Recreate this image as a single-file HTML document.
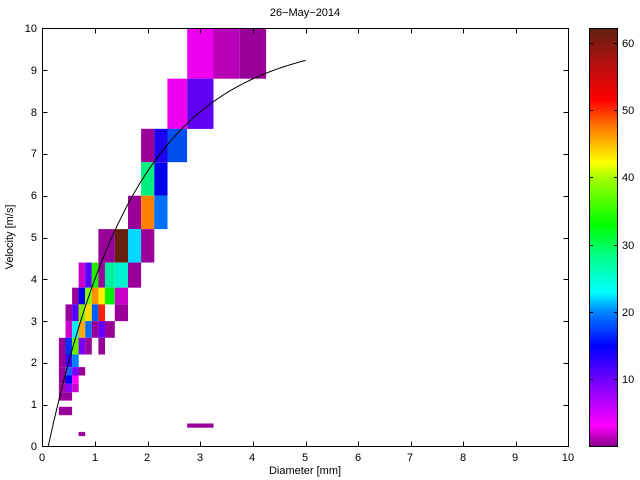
<!DOCTYPE html>
<html><head><meta charset="utf-8"><style>
body{margin:0;background:#fff;}
svg{display:block;font-family:"Liberation Sans",sans-serif;}
</style></head><body>
<svg id="s" width="640" height="480" xmlns="http://www.w3.org/2000/svg">
<defs>
<linearGradient id="cb" x1="0" y1="1" x2="0" y2="0">
<stop offset="0" stop-color="#880088"/>
<stop offset="0.05" stop-color="#ff00ff"/>
<stop offset="0.16" stop-color="#7000ff"/>
<stop offset="0.24" stop-color="#0000ff"/>
<stop offset="0.32" stop-color="#0080ff"/>
<stop offset="0.37" stop-color="#00ffff"/>
<stop offset="0.45" stop-color="#00ff90"/>
<stop offset="0.53" stop-color="#00ff00"/>
<stop offset="0.64" stop-color="#a0ff00"/>
<stop offset="0.68" stop-color="#ffff00"/>
<stop offset="0.76" stop-color="#ff8000"/>
<stop offset="0.83" stop-color="#ff0000"/>
<stop offset="0.92" stop-color="#b01010"/>
<stop offset="1" stop-color="#602010"/>
</linearGradient>
</defs>
<g id="cells"></g>
<polyline id="curve" fill="none" stroke="#000" stroke-width="1"/>
<rect x="42.5" y="28.5" width="526" height="418" fill="none" stroke="#000" stroke-width="1"/>
<g id="ticks" stroke="#000" stroke-width="1"></g>
<g font-size="11" fill="#000" text-anchor="middle">
<text x="42" y="461">0</text><text x="95" y="461">1</text><text x="147" y="461">2</text><text x="200" y="461">3</text><text x="252" y="461">4</text><text x="305" y="461">5</text><text x="358" y="461">6</text><text x="410" y="461">7</text><text x="463" y="461">8</text><text x="515" y="461">9</text><text x="568" y="461">10</text>
</g>
<g font-size="11" fill="#000" text-anchor="end">
<text x="37" y="450">0</text><text x="37" y="408">1</text><text x="37" y="366">2</text><text x="37" y="325">3</text><text x="37" y="283">4</text><text x="37" y="241">5</text><text x="37" y="199">6</text><text x="37" y="157">7</text><text x="37" y="116">8</text><text x="37" y="74">9</text><text x="37" y="32">10</text>
</g>
<text x="305" y="474" font-size="11" text-anchor="middle">Diameter [mm]</text>
<text x="305" y="16" font-size="11" text-anchor="middle">26−May−2014</text>
<text transform="translate(13,237) rotate(-90)" font-size="11" text-anchor="middle">Velocity [m/s]</text>
<rect x="589.5" y="28.5" width="28" height="418" fill="url(#cb)" stroke="#000" stroke-width="1"/>
<g stroke="#000" stroke-width="1">
<line x1="589.5" y1="379.5" x2="593" y2="379.5"/><line x1="614" y1="379.5" x2="617.5" y2="379.5"/>
<line x1="589.5" y1="312.5" x2="593" y2="312.5"/><line x1="614" y1="312.5" x2="617.5" y2="312.5"/>
<line x1="589.5" y1="245.5" x2="593" y2="245.5"/><line x1="614" y1="245.5" x2="617.5" y2="245.5"/>
<line x1="589.5" y1="177.5" x2="593" y2="177.5"/><line x1="614" y1="177.5" x2="617.5" y2="177.5"/>
<line x1="589.5" y1="110.5" x2="593" y2="110.5"/><line x1="614" y1="110.5" x2="617.5" y2="110.5"/>
<line x1="589.5" y1="43.5" x2="593" y2="43.5"/><line x1="614" y1="43.5" x2="617.5" y2="43.5"/>
</g>
<g font-size="11" fill="#000">
<text x="622" y="383">10</text><text x="622" y="316">20</text><text x="622" y="249">30</text><text x="622" y="181">40</text><text x="622" y="114">50</text><text x="622" y="47">60</text>
</g>
</svg>
<script>
var X=function(d){return 42.5+52.6*d;},Y=function(v){return 446.5-41.8*Math.min(v,10);};
var P="#990099";
var cells=[
[2.75,3.25,8.8,10.4,"#ee00ee"],[3.25,3.75,8.8,10.4,"#b800b8"],[3.75,4.25,8.8,10.4,"#990099"],
[2.375,2.75,7.6,8.8,"#ee00ee"],[2.75,3.25,7.6,8.8,"#6000f0"],
[1.875,2.125,6.8,7.6,P],[2.125,2.375,6.8,7.6,"#2000f0"],[2.375,2.75,6.8,7.6,"#0050f0"],
[1.875,2.125,6.0,6.8,"#00f080"],[2.125,2.375,6.0,6.8,"#0000f0"],
[1.625,1.875,5.2,6.0,P],[1.875,2.125,5.2,6.0,"#ff8000"],[2.125,2.375,5.2,6.0,"#0070ff"],
[1.062,1.187,4.4,5.2,P],[1.187,1.375,4.4,5.2,P],[1.375,1.625,4.4,5.2,"#662010"],[1.625,1.875,4.4,5.2,"#00d8ff"],[1.875,2.125,4.4,5.2,P],
[0.687,0.812,3.8,4.4,"#cc00cc"],[0.812,0.937,3.8,4.4,"#5500ff"],[0.937,1.062,3.8,4.4,"#22ee00"],[1.062,1.187,3.8,4.4,P],[1.187,1.375,3.8,4.4,"#00f0a0"],[1.375,1.625,3.8,4.4,"#00f0d0"],[1.625,1.875,3.8,4.4,P],
[0.562,0.687,3.4,3.8,P],[0.687,0.812,3.4,3.8,"#0000ee"],[0.812,0.937,3.4,3.8,"#80ff00"],[0.937,1.062,3.4,3.8,"#ff9000"],[1.062,1.187,3.4,3.8,"#ffee00"],[1.187,1.375,3.4,3.8,"#00ee00"],[1.375,1.625,3.4,3.8,"#cc00cc"],
[0.437,0.562,3.0,3.4,P],[0.562,0.687,3.0,3.4,"#5500ff"],[0.687,0.812,3.0,3.4,"#88ee00"],[0.812,0.937,3.0,3.4,"#ffdd00"],[0.937,1.062,3.0,3.4,"#0060ff"],[1.062,1.187,3.0,3.4,"#ff2000"],[1.375,1.625,3.0,3.4,P],
[0.437,0.562,2.6,3.0,"#cc00cc"],[0.562,0.687,2.6,3.0,"#00eeff"],[0.687,0.812,2.6,3.0,"#ffaa00"],[0.812,0.937,2.6,3.0,"#0070ff"],[0.937,1.062,2.6,3.0,P],[1.062,1.187,2.6,3.0,"#6600ff"],[1.187,1.375,2.6,3.0,P],
[0.312,0.437,2.2,2.6,P],[0.437,0.562,2.2,2.6,"#0030ff"],[0.562,0.687,2.2,2.6,"#66ee00"],[0.687,0.812,2.2,2.6,"#7700ff"],[0.812,0.937,2.2,2.6,P],[1.062,1.187,2.2,2.6,P],
[0.312,0.437,1.9,2.2,P],[0.437,0.562,1.9,2.2,"#4000ff"],[0.562,0.687,1.9,2.2,"#0080ff"],
[0.312,0.437,1.7,1.9,P],[0.437,0.562,1.7,1.9,"#2060ff"],[0.562,0.687,1.7,1.9,"#7700ff"],[0.687,0.812,1.7,1.9,P],
[0.312,0.437,1.5,1.7,P],[0.437,0.562,1.5,1.7,"#0000ff"],[0.562,0.687,1.5,1.7,"#ff00ff"],
[0.312,0.437,1.3,1.5,"#aa00aa"],[0.437,0.562,1.3,1.5,"#8800ff"],[0.562,0.687,1.3,1.5,"#cc00cc"],
[0.312,0.437,1.1,1.3,P],[0.437,0.562,1.1,1.3,P],
[0.312,0.437,0.85,0.95,P],[0.437,0.562,0.85,0.95,P],[0.312,0.437,0.75,0.85,P],[0.437,0.562,0.75,0.85,P],
[0.687,0.812,0.25,0.35,P],[2.75,3.25,0.45,0.55,P]
];
var g=document.getElementById("cells"),h="";
cells.forEach(function(c){var x1=X(c[0]),x2=X(c[1]),y1=Y(c[3]),y2=Y(c[2]);
h+='<rect x="'+x1.toFixed(1)+'" y="'+y1.toFixed(1)+'" width="'+(x2-x1).toFixed(1)+'" height="'+(y2-y1).toFixed(1)+'" fill="'+c[4]+'"/>';});
g.innerHTML=h;
var pts=[];for(var i=0;i<=98;i++){var d=0.11+i*(5-0.11)/98;var v=9.65-10.3*Math.exp(-0.6*d)+0.02*d;pts.push(X(d).toFixed(1)+","+Y(Math.max(v,0)).toFixed(1));}
document.getElementById("curve").setAttribute("points",pts.join(" "));
var t="";for(var i=1;i<10;i++){var x=Math.round(X(i))+0.5;t+='<line x1="'+x+'" y1="446.5" x2="'+x+'" y2="441.5"/><line x1="'+x+'" y1="28.5" x2="'+x+'" y2="33.5"/>';
var y=Math.round(Y(i))+0.5;t+='<line x1="42.5" y1="'+y+'" x2="47.5" y2="'+y+'"/><line x1="568.5" y1="'+y+'" x2="563.5" y2="'+y+'"/>';}
document.getElementById("ticks").innerHTML=t;
</script>
</body></html>
